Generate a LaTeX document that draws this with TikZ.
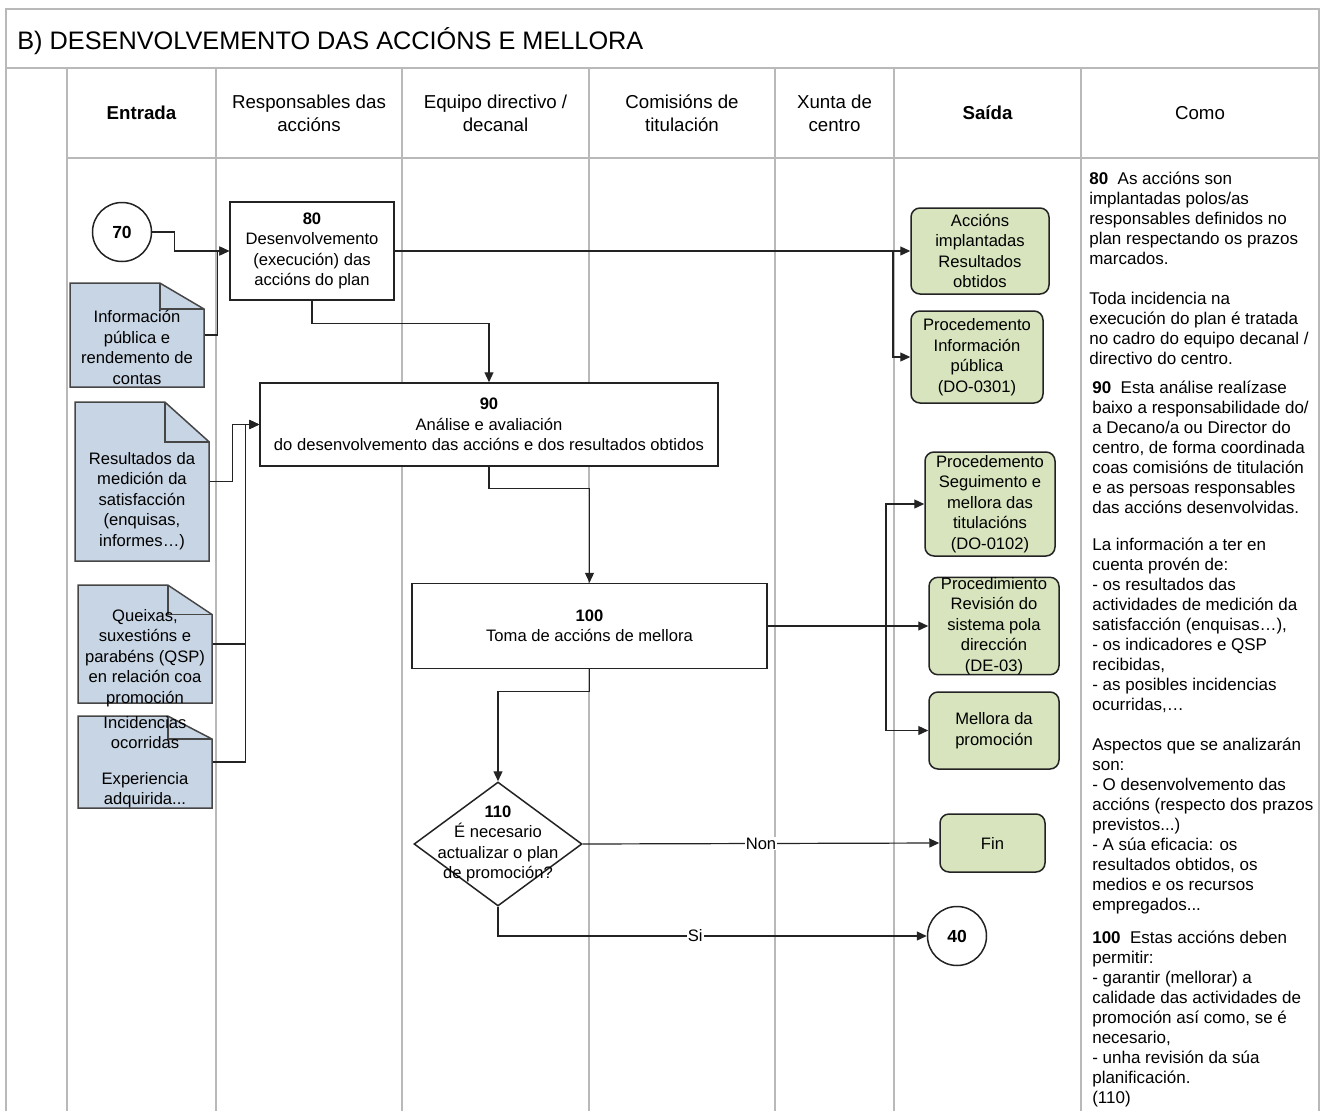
\documentclass[tikz,border=0pt]{standalone}
\usepackage{fontspec}
\setmainfont{Liberation Sans}
\usetikzlibrary{arrows.meta,shapes.geometric,calc}
\definecolor{grid_gray}{RGB}{185,185,185}
\definecolor{edge_dark}{RGB}{35,35,35}
\definecolor{doc_edge}{RGB}{70,70,70}
\definecolor{doc_blue}{RGB}{200,213,228}
\definecolor{out_green}{RGB}{215,228,189}

\begin{document}
\begin{tikzpicture}[x=1pt,y=-1pt,>={Triangle[length=10pt,width=9pt]},semithick]
    \tikzstyle{laneline}=[draw=grid_gray,line width=1.3pt]
    \tikzstyle{headtext}=[font=\fontsize{18.7}{23}\selectfont,align=center]
    \tikzstyle{headbold}=[style=headtext,font=\fontsize{18.7}{23}\selectfont\bfseries]
    \tikzstyle{steptext}=[font=\fontsize{16.6}{20.5}\selectfont,align=center]
    \tikzstyle{stepbox}=[style=steptext,draw=edge_dark,line width=1.5pt,fill=white,inner sep=0pt]
    \tikzstyle{outbox}=[style=stepbox,fill=out_green,rounded corners=9pt]
    \tikzstyle{decision}=[diamond,draw=edge_dark,line width=1.5pt,fill=white,inner sep=0pt]
    \tikzstyle{jump}=[circle,draw=edge_dark,line width=1.5pt,fill=white,minimum size=59pt,inner sep=0pt,font=\fontsize{17.5}{20}\selectfont\bfseries]
    \tikzstyle{docshape}=[fill=doc_blue,draw=doc_edge,line width=1.5pt]
    \tikzstyle{doc}=[inner sep=0pt,path picture={
        \coordinate (nw) at ([shift={(1pt,-1pt)}]path picture bounding box.north west);
        \coordinate (se) at ([shift={(-1pt,1pt)}]path picture bounding box.south east);
        \filldraw[docshape] (nw) -- ($(nw)!0.67!(nw -| se)$) -- ($(nw -| se)!0.25!(se)$) -- (se) -- (nw |- se) -- cycle;
        \draw[docshape,fill=none] ($(nw)!0.67!(nw -| se)$) |- ($(nw -| se)!0.25!(se)$);
    }]
    \tikzstyle{flow}=[->,draw=edge_dark,line width=1.2pt]
    \tikzstyle{flowlabel}=[style=steptext,fill=white,inner sep=1pt]
    \tikzstyle{howtext}=[font=\fontsize{17}{20}\selectfont,align=left,anchor=north west,inner sep=0pt]

    \useasboundingbox (0,0) rectangle (1326,1111);

    \draw[laneline] (6,1111) -- (6,9) -- (1319,9) -- (1319,1111);
    \draw[laneline] (6,68) -- (1319,68);
    \draw[laneline] (67,158) -- (1319,158);
    \foreach \x in {67,216,402,589,775,894,1081}
        \draw[laneline] (\x,68) -- (\x,1111);

    \node[anchor=base west,inner sep=0pt,font=\fontsize{25.3}{30}\selectfont] (title) at (17,49) {B) DESENVOLVEMENTO DAS ACCIÓNS E MELLORA};

    \node[headbold] (hIn)   at (141.5,113) {Entrada};
    \node[headtext] (hResp) at (309,113)   {Responsables das\\accións};
    \node[headtext] (hEq)   at (495.5,113) {Equipo directivo /\\decanal};
    \node[headtext] (hCom)  at (682,113)   {Comisións de\\titulación};
    \node[headtext] (hXun)  at (834.5,113) {Xunta de\\centro};
    \node[headbold] (hOut)  at (987.5,113) {Saída};
    \node[headtext] (hHow)  at (1200,113)  {Como};

    \node[jump] (c70) at (122,232) {70};
    \node[jump] (c40) at (957,936) {40};

    \node[doc,minimum width=136pt,minimum height=106pt,
          label={[steptext,yshift=-12.5pt]center:{Información\\pública e\\rendemento de\\contas}}] (in1) at (137,335) {};
    \node[doc,minimum width=136pt,minimum height=161pt,
          label={[steptext,yshift=-19.5pt]center:{Resultados da\\medición da\\satisfacción\\(enquisas,\\informes…)}}] (in2) at (142,481.5) {};
    \node[doc,minimum width=136pt,minimum height=120pt,
          label={[steptext,yshift=-14pt]center:{Queixas,\\suxestións e\\parabéns (QSP)\\en relación coa\\promoción}}] (in3) at (145,644) {};
    \node[doc,minimum width=136pt,minimum height=94pt,
          label={[steptext]center:{Incidencias\\ocorridas\\[15pt]Experiencia\\adquirida...}}] (in4) at (145,762) {};

    \node[stepbox,minimum width=164pt,minimum height=98pt] (b80) at (312,251) {\textbf{80}\\Desenvolvemento\\(execución) das\\accións do plan};
    \node[stepbox,minimum width=458pt,minimum height=83pt] (b90) at (489,424.5) {\textbf{90}\\Análise e avaliación\\do desenvolvemento das accións e dos resultados obtidos};
    \node[stepbox,minimum width=355pt,minimum height=85pt] (b100) at (589.5,626) {\textbf{100}\\Toma de accións de mellora};
    \node[decision,minimum width=168pt,minimum height=124pt,
          label={[steptext]center:{\textbf{110}\\É necesario\\actualizar o plan\\de promoción?}}] (d110) at (498,844) {};

    \node[outbox,minimum width=138pt,minimum height=86pt]  (accions)  at (980,251)   {Accións\\implantadas\\Resultados\\obtidos};
    \node[outbox,minimum width=132pt,minimum height=92pt]  (infopub)  at (977,357)   {Procedemento\\Información\\pública\\(DO-0301)};
    \node[outbox,minimum width=130pt,minimum height=104pt] (seguim)   at (990,504)   {Procedemento\\Seguimento e\\mellora das\\titulacións\\(DO-0102)};
    \node[outbox,minimum width=130pt,minimum height=96pt]  (revision) at (994,626)   {Procedimiento\\Revisión do\\sistema pola\\dirección\\(DE-03)};
    \node[outbox,minimum width=130pt,minimum height=77pt]  (mellora)  at (994,730.5) {Mellora da\\promoción};
    \node[outbox,minimum width=105pt,minimum height=58pt]  (fin)      at (992.5,843) {Fin};

    \coordinate (br1) at (893,251);
    \coordinate (br2) at (886,626);

    \draw[flow] (c70.east) -- ++(22,0) |- (b80.west);
    \draw[flow] (in1.east) -- ++(12,0) |- (b80.west);
    \draw[flow] (in2.east) -- ++(22,0) |- (b90.west);
    \draw[flow] (in3.east) -- ++(32,0) |- (b90.west);
    \draw[flow] (in4.east) -- ++(32,0) |- (b90.west);
    \draw[flow] (b80.south) -- ++(0,23) -| (b90.north);
    \draw[flow] (b90.south) -- ++(0,22) -| (b100.north);
    \draw[flow] (b100.south) -- ++(0,22) -| (d110.north);
    \draw[flow] (b80.east) -- (accions.west);
    \draw[flow] (br1) |- (infopub.west);
    \draw[flow] (b100.east) -- (revision.west);
    \draw[flow] (br2) |- (seguim.west);
    \draw[flow] (br2) |- (mellora.west);
    \draw[flow] (d110.east) -- node[flowlabel] {Non} (fin.west);
    \draw[flow] (d110.south) |- node[flowlabel,pos=0.73] {Si} (c40.west);

    \node[howtext] (how80) at (1089,170) {\strut\textbf{80}\ \ As accións son\\
        implantadas polos/as\\
        responsables definidos no\\
        plan respectando os prazos\\
        marcados.\\[20pt]
        Toda incidencia na\\
        execución do plan é tratada\\
        no cadro do equipo decanal /\\
        directivo do centro.};
    \node[howtext] (how90) at (1092,379) {\strut\textbf{90}\ \ Esta análise realízase\\
        baixo a responsabilidade do/\\
        a Decano/a ou Director do\\
        centro, de forma coordinada\\
        coas comisións de titulación\\
        e as persoas responsables\\
        das accións desenvolvidas.\\[17pt]
        La información a ter en\\
        cuenta provén de:\\
        - os resultados das\\
        actividades de medición da\\
        satisfacción (enquisas…),\\
        - os indicadores e QSP\\
        recibidas,\\
        - as posibles incidencias\\
        ocurridas,…\\[20pt]
        Aspectos que se analizarán\\
        son:\\
        - O desenvolvemento das\\
        accións (respecto dos prazos\\
        previstos...)\\
        - A súa eficacia: os\\
        resultados obtidos, os\\
        medios e os recursos\\
        empregados...};
    \node[howtext] (how100) at (1092,929) {\strut\textbf{100}\ \ Estas accións deben\\
        permitir:\\
        - garantir (mellorar) a\\
        calidade das actividades de\\
        promoción así como, se é\\
        necesario,\\
        - unha revisión da súa\\
        planificación.\\
        (110)};
\end{tikzpicture}
\end{document}
